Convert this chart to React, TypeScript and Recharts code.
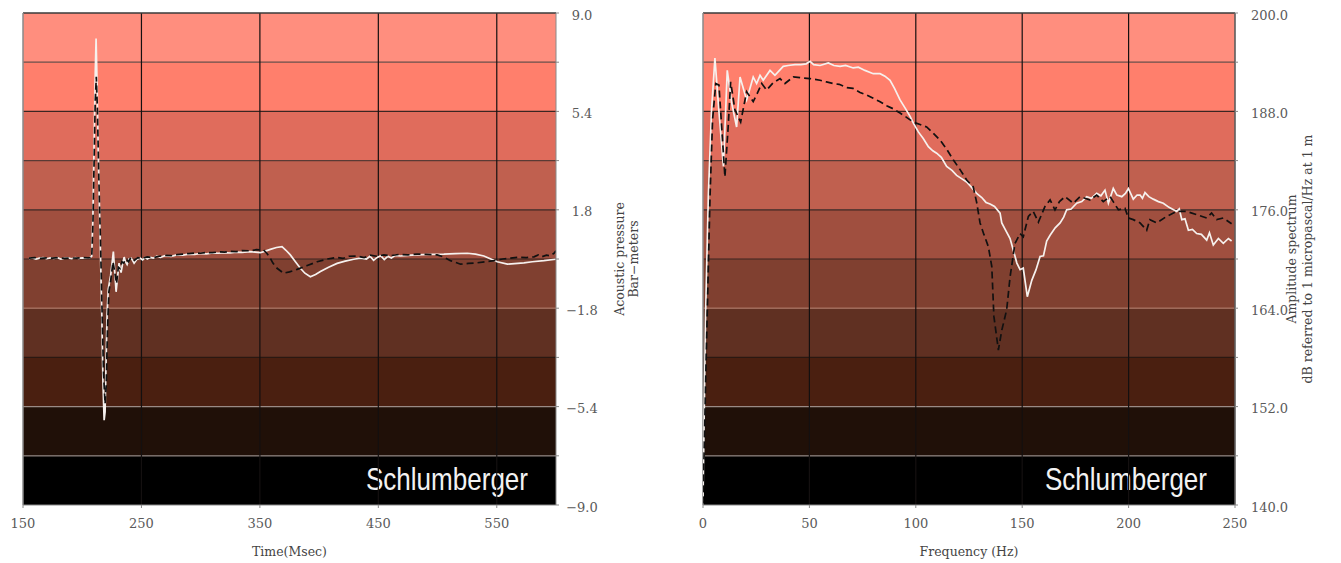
import React from "react";
import {
  LineChart,
  Line,
  XAxis,
  YAxis,
  ReferenceArea,
  ReferenceLine,
} from "recharts";

// Left panel: pressure signature, [time ms, bar-m]
const pulseSolid: [number, number][] = [
  [155, 0.02], [158, 0.04], [161, 0.0], [164, 0.03], [167, 0.05], [170, 0.01],
  [173, 0.04], [176, 0.02], [179, 0.05], [182, 0.0], [185, 0.03], [188, 0.04],
  [191, 0.01], [194, 0.05], [197, 0.02], [200, 0.04], [203, 0.03], [206, 0.04],
  [208, 0.1], [209, 1.5], [210, 4.2], [211, 6.8], [211.7, 8.07], [212.5, 6.5],
  [213.5, 4.0], [215, 1.0], [216.5, -2.0], [217.5, -4.5], [218.5, -5.9],
  [219.3, -5.6], [220, -4.0], [221, -2.0], [222, -1.1], [224, -0.6],
  [226.3, 0.27], [227.5, -0.5], [228.6, -1.2], [230, -0.6], [231.1, -0.15],
  [232.8, -0.5], [234, -0.2], [235.4, 0.07], [236.5, -0.1], [237.9, -0.2],
  [239.5, 0.0], [241.3, 0.03], [242.5, -0.05], [243.8, -0.15], [246, -0.02],
  [248.9, 0.03], [251, -0.03], [253, 0.05], [255, 0.0], [257.4, 0.06],
  [260, 0.03], [263, 0.1], [266, 0.06], [270, 0.12], [275, 0.1], [280, 0.15],
  [285, 0.14], [290, 0.18], [295, 0.17], [300, 0.2], [305, 0.19], [310, 0.22],
  [315, 0.21], [320, 0.23], [325, 0.22], [330, 0.25], [335, 0.24], [341.9, 0.27],
  [346, 0.25], [350.3, 0.23], [354, 0.28], [358.8, 0.35], [364, 0.42],
  [368.7, 0.45], [372, 0.32], [375.7, 0.15], [380, -0.1], [384.2, -0.34],
  [388, -0.52], [392.6, -0.65], [397, -0.57], [401.1, -0.46], [408, -0.3],
  [415.2, -0.16], [422, -0.08], [429.2, -0.01], [435, 0.03], [440, 0.0],
  [443, 0.1], [446, -0.05], [449, 0.06], [452, 0.12], [455, -0.02], [458, 0.1],
  [461, 0.04], [464, 0.13], [468.7, 0.11], [475, 0.13], [482, 0.15],
  [488.4, 0.16], [495, 0.17], [505.3, 0.18], [515, 0.2], [525.1, 0.21],
  [532, 0.18], [539.1, 0.11], [545, 0.0], [550.4, -0.1], [558.9, -0.19],
  [565, -0.17], [572.9, -0.14], [580, -0.1], [589.8, -0.06], [599.7, -0.01],
];

const pulseDashed: [number, number][] = [
  [155, 0.03], [160, 0.05], [165, 0.02], [170, 0.04], [175, 0.03], [180, 0.05],
  [185, 0.02], [190, 0.04], [195, 0.03], [200, 0.05], [205, 0.04], [208, 0.05],
  [209, 1.2], [210, 3.5], [211, 5.8], [211.9, 6.67], [212.8, 5.5], [214, 3.0],
  [215.5, 0.5], [216.8, -2.0], [218, -4.2], [219.3, -5.3], [220.3, -4.6],
  [221.3, -2.6], [222.5, -1.2], [224, -0.8], [226, -0.1], [227.5, -0.5],
  [229, -0.9], [230.5, -0.3], [232, -0.35], [233.5, -0.1], [235, -0.15],
  [237, 0.0], [239, -0.1], [241, 0.05], [244, -0.05], [247, 0.05], [250, 0.02],
  [255, 0.08], [260, 0.05], [265, 0.1], [270, 0.13], [275, 0.12], [280, 0.16],
  [285, 0.18], [290, 0.2], [295, 0.22], [300, 0.21], [305, 0.24], [310, 0.23],
  [315, 0.26], [320, 0.25], [325, 0.28], [330, 0.27], [335, 0.31], [341.9, 0.3],
  [347, 0.34], [353.1, 0.33], [356, 0.2], [358.8, 0.03], [361, -0.15],
  [364.5, -0.34], [370, -0.52], [375, -0.47], [381.4, -0.38], [390, -0.24],
  [398.3, -0.1], [407, 0.0], [415.2, 0.06], [420, 0.02], [425, 0.1],
  [432.1, 0.11], [438, 0.05], [443, 0.14], [449, 0.1], [454.6, 0.15],
  [460, 0.12], [468, 0.17], [475, 0.15], [482.8, 0.18], [490, 0.17],
  [499.7, 0.15], [505, 0.08], [510.9, -0.06], [519.4, -0.19], [526, -0.16],
  [533.5, -0.14], [540, -0.1], [547.6, -0.06], [555, 0.0], [561.7, 0.03],
  [568, 0.06], [575, 0.05], [581.4, 0.08], [585, 0.15], [588, 0.08],
  [592, 0.14], [595, 0.12], [598.3, 0.21], [600, 0.3],
];

// Right panel: amplitude spectrum, [Hz, dB]
const spectrumSolid: [number, number][] = [
  [0, 140.5], [1.2, 163], [2.5, 177.6], [4, 188], [5.6, 194.5], [7.5, 188],
  [9.6, 181.3], [11.4, 193.0], [13.5, 189], [15.8, 186.1], [17.4, 192.2],
  [20.5, 189.4], [23.6, 192.2], [25.2, 191.4], [26.8, 192.4], [28.3, 191.8],
  [31.5, 193.0], [33.8, 192.4], [37.7, 193.5], [40, 193.6], [43.2, 193.7],
  [46, 193.7], [48.5, 193.8], [50.3, 194.1], [52, 193.7], [55, 193.6],
  [58.9, 193.9], [61.5, 193.6], [64.4, 193.5], [67, 193.6], [70.6, 193.3],
  [73, 193.4], [76.1, 193.0], [80, 192.6], [83.2, 192.6], [85.5, 192.3],
  [87.9, 191.8], [90, 190.8], [92.6, 189.4], [95, 188.4], [97.3, 187.4],
  [99, 186.5], [101.2, 185.5], [103.5, 184.7], [105.9, 183.7], [108, 183.2],
  [109.8, 182.9], [112, 182.4], [114.5, 181.3], [117, 180.8], [119.2, 180.2],
  [121.5, 179.8], [123.9, 179.4], [126, 178.8], [128.6, 178.0], [131, 177.5],
  [133, 176.9], [134.9, 176.7], [137, 176.4], [139.6, 175.6], [140.4, 174.4],
  [142, 173.6], [144.3, 172.5], [145.8, 171.1], [147.5, 169.5], [149, 168.7],
  [150.5, 168.9], [152.4, 165.4], [154.5, 167.4], [156.5, 168.7], [158.4, 170.3],
  [160, 170.4], [161.5, 172.2], [163.1, 172.9], [165.5, 173.8], [167.8, 174.4],
  [169.5, 175.1], [170.9, 176.0], [173, 176.1], [175.6, 176.8], [178, 177.0],
  [180.3, 177.6], [182.5, 177.4], [185, 178.0], [187, 177.7], [188.9, 178.4],
  [190.5, 176.8], [192.8, 178.6], [194.5, 177.8], [196.8, 177.6], [198.5, 178.0],
  [199.9, 178.6], [202.2, 177.3], [204, 177.8], [205.4, 177.8], [206.5, 177.4],
  [207.7, 178.1], [209.5, 177.6], [211.6, 177.3], [214, 177.0], [216.3, 176.8],
  [219, 176.3], [222.6, 175.8], [223.8, 176.1], [225, 174.8], [226.5, 174.9],
  [228.1, 173.5], [230, 173.6], [232, 173.1], [234.2, 173.0], [236.7, 172.3],
  [238, 173.2], [239.8, 171.7], [242.2, 172.5], [244.5, 171.9], [246.9, 172.5],
  [248.4, 172.2],
];

const spectrumDashed: [number, number][] = [
  [0, 140.2], [1.5, 158], [3.3, 177.6], [4.5, 187], [6, 191.4], [7.5, 191.2],
  [8.8, 186], [10.3, 180.0], [11.8, 186], [13, 191.6], [15, 188.2],
  [17.7, 186.7], [20.5, 190.4], [23.6, 189.2], [25.5, 190.2], [27.6, 191.4],
  [29.9, 190.6], [33, 191.5], [36.2, 192.0], [38.5, 191.4], [42.4, 192.2],
  [46, 192.1], [50.3, 192.0], [55, 191.8], [58, 191.6], [61.2, 191.4],
  [64, 191.3], [67.5, 190.9], [70.5, 190.8], [73.8, 190.3], [77, 190.0],
  [80, 189.6], [83, 189.2], [86.3, 188.7], [89.5, 188.3], [92.6, 187.8],
  [95.5, 187.3], [98.8, 186.7], [102, 186.4], [105.1, 186.1], [108, 185.4],
  [111.4, 184.5], [114.5, 183.4], [117.6, 182.1], [120.8, 180.9], [124, 179.6],
  [127, 178.8], [128.6, 176.9], [130.2, 174.4], [132, 173.0], [134.1, 171.5],
  [135.7, 169.1], [136.7, 163.0], [138.8, 158.9], [140.4, 161.3], [142.7, 163.8],
  [144.3, 167.8], [146.6, 171.9], [149, 173.1], [150.5, 172.7], [152.9, 175.2],
  [155.2, 175.8], [157.6, 174.5], [160.7, 176.4], [163.1, 177.2], [165.4, 176.0],
  [167.5, 177.0], [170.1, 177.6], [174, 176.8], [177.2, 177.6], [181.9, 177.2],
  [185, 177.8], [188.1, 177.0], [191.3, 177.6], [193, 176.9], [195.2, 176.0],
  [198.3, 176.2], [199.9, 175.0], [202.2, 174.8], [205.4, 174.4], [208.5, 173.5],
  [210, 174.8], [213.2, 174.4], [217.9, 175.2], [222.6, 175.8], [227.3, 175.8],
  [232, 175.4], [236.7, 175.0], [239, 175.6], [241.4, 174.8], [244.5, 175.0],
  [248.4, 174.3],
];

const timeTicks = [150, 250, 350, 450, 550];
const pressureTicks = [9, 7.2, 5.4, 3.6, 1.8, 0, -1.8, -3.6, -5.4, -7.2, -9];
const pressureLabels = [9, 5.4, 1.8, -1.8, -5.4, -9];
const freqTicks = [0, 50, 100, 150, 200, 250];
const ampTicks = [200, 194, 188, 182, 176, 170, 164, 158, 152, 146, 140];
const ampLabels = [200, 188, 176, 164, 152, 140];

// band fills, top to bottom
const BAND_FILLS = [
  "#ff8e7e", "#ff7f6c", "#e06c5c", "#c0604f", "#a04f3f",
  "#804030", "#603022", "#4a1f10", "#201008", "#000000",
];
// lines between the bands, top to bottom
const BAND_EDGES = [
  "#6a4a44", "#3a2622", "#5a3a34", "#3a2420", "#3a2420",
  "#a8705f", "#2a1812", "#9a8a85", "#8a7e7a",
];

const SERIF = "DejaVu Serif";
const TICK_GRAY = "#5a5a5a";

const toPoints = (pairs: [number, number][]) => pairs.map(([x, y]) => ({ x, y }));

function brandLabel(props: any) {
  const vb = props.viewBox;
  return (
    <text
      x={vb.x + vb.width - 28}
      y={vb.y + vb.height / 2 + 10}
      textAnchor="end"
      fill="#f2f2f2"
      fontSize={32}
      fontFamily="Liberation Sans, Arial, sans-serif"
      textLength={162}
      lengthAdjust="spacingAndGlyphs"
    >
      Schlumberger
    </text>
  );
}

function makeTitle(lines: string[], offsets: number[]) {
  return (props: any) => {
    const vb = props.viewBox;
    const cy = vb.y + vb.height / 2;
    return (
      <g>
        {lines.map((line, i) => {
          const x = vb.x + offsets[i];
          return (
            <text
              key={line}
              x={x}
              y={cy}
              transform={`rotate(-90 ${x} ${cy})`}
              textAnchor="middle"
              fill="#444"
              fontSize={12.5}
              fontFamily={SERIF}
            >
              {line}
            </text>
          );
        })}
      </g>
    );
  };
}

function makeYTick(labels: number[], dx: number) {
  return (props: any) => {
    const v = props.payload.value;
    if (!labels.some((l) => Math.abs(l - v) < 1e-6)) return <g />;
    return (
      <text
        x={props.x + dx}
        y={props.y}
        dy="0.5em"
        textAnchor="middle"
        fill={TICK_GRAY}
        fontSize={13}
        fontFamily={SERIF}
      >
        {v.toFixed(1).replace("-", "\u2212")}
      </text>
    );
  };
}

type PanelProps = {
  width: number;
  axisWidth: number;
  xDomain: [number, number];
  xTicks: number[];
  yTicks: number[];
  yLabels: number[];
  tickDx: number;
  xTitle: string;
  yTitle: string[];
  titleOffsets: number[];
  solid: [number, number][];
  dashed: [number, number][];
};

function Panel(p: PanelProps) {
  const top = p.yTicks[0];
  const bottom = p.yTicks[p.yTicks.length - 1];
  return (
    <LineChart
      width={p.width}
      height={563}
      margin={{ top: 13, right: 0, bottom: 0, left: 23 }}
    >
      {p.yTicks.slice(0, -1).map((y, i) => (
        <ReferenceArea
          key={`band-${i}`}
          y1={p.yTicks[i + 1]}
          y2={y}
          fill={BAND_FILLS[i]}
          fillOpacity={1}
          stroke="none"
          label={i === BAND_FILLS.length - 1 ? brandLabel : undefined}
        />
      ))}
      {p.yTicks.slice(1, -1).map((y, i) => (
        <ReferenceLine key={`h-${i}`} y={y} stroke={BAND_EDGES[i]} strokeWidth={1.2} />
      ))}
      {p.xTicks.slice(1).map((x) => (
        <ReferenceLine key={`v-${x}`} x={x} stroke="#141010" strokeWidth={1.2} />
      ))}
      <ReferenceLine y={top} stroke="#3a3a3a" strokeWidth={1.5} />
      <ReferenceLine x={p.xDomain[0]} stroke="#8a8a8a" strokeWidth={1.5} />
      <XAxis
        type="number"
        dataKey="x"
        domain={p.xDomain}
        ticks={p.xTicks}
        allowDataOverflow
        height={58}
        tickSize={3}
        tickMargin={11}
        stroke="#8a8a8a"
        tick={{ fill: TICK_GRAY, fontSize: 13, fontFamily: SERIF }}
        label={{
          value: p.xTitle,
          position: "insideBottom",
          offset: 7,
          fill: "#444",
          fontSize: 12.5,
          fontFamily: SERIF,
        }}
      />
      <YAxis
        type="number"
        dataKey="y"
        orientation="right"
        domain={[bottom, top]}
        ticks={p.yTicks}
        allowDataOverflow
        width={p.axisWidth}
        tickSize={3}
        tickMargin={0}
        stroke="#8a8a8a"
        tick={makeYTick(p.yLabels, p.tickDx)}
        label={makeTitle(p.yTitle, p.titleOffsets)}
      />
      <Line
        data={toPoints(p.solid)}
        dataKey="y"
        type="linear"
        stroke="#f6f1ee"
        strokeWidth={1.7}
        dot={false}
        isAnimationActive={false}
      />
      <Line
        data={toPoints(p.dashed)}
        dataKey="y"
        type="linear"
        stroke="#111"
        strokeWidth={1.7}
        strokeDasharray="7 4"
        dot={false}
        isAnimationActive={false}
      />
    </LineChart>
  );
}

export default function App() {
  return (
    <div
      style={{
        position: "absolute",
        left: 0,
        top: 0,
        width: 1341,
        height: 563,
        background: "#fff",
        display: "flex",
      }}
    >
      <Panel
        width={680}
        axisWidth={124}
        xDomain={[150, 600]}
        xTicks={timeTicks}
        yTicks={pressureTicks}
        yLabels={pressureLabels}
        tickDx={23}
        xTitle="Time(Msec)"
        yTitle={["Acoustic pressure", "Bar\u2212meters"]}
        titleOffsets={[68, 82]}
        solid={pulseSolid}
        dashed={pulseDashed}
      />
      <Panel
        width={661}
        axisWidth={106}
        xDomain={[0, 250]}
        xTicks={freqTicks}
        yTicks={ampTicks}
        yLabels={ampLabels}
        tickDx={31.5}
        xTitle="Frequency (Hz)"
        yTitle={["Amplitude spectrum", "dB referred to 1 micropascal/Hz at 1 m"]}
        titleOffsets={[61, 77]}
        solid={spectrumSolid}
        dashed={spectrumDashed}
      />
    </div>
  );
}
